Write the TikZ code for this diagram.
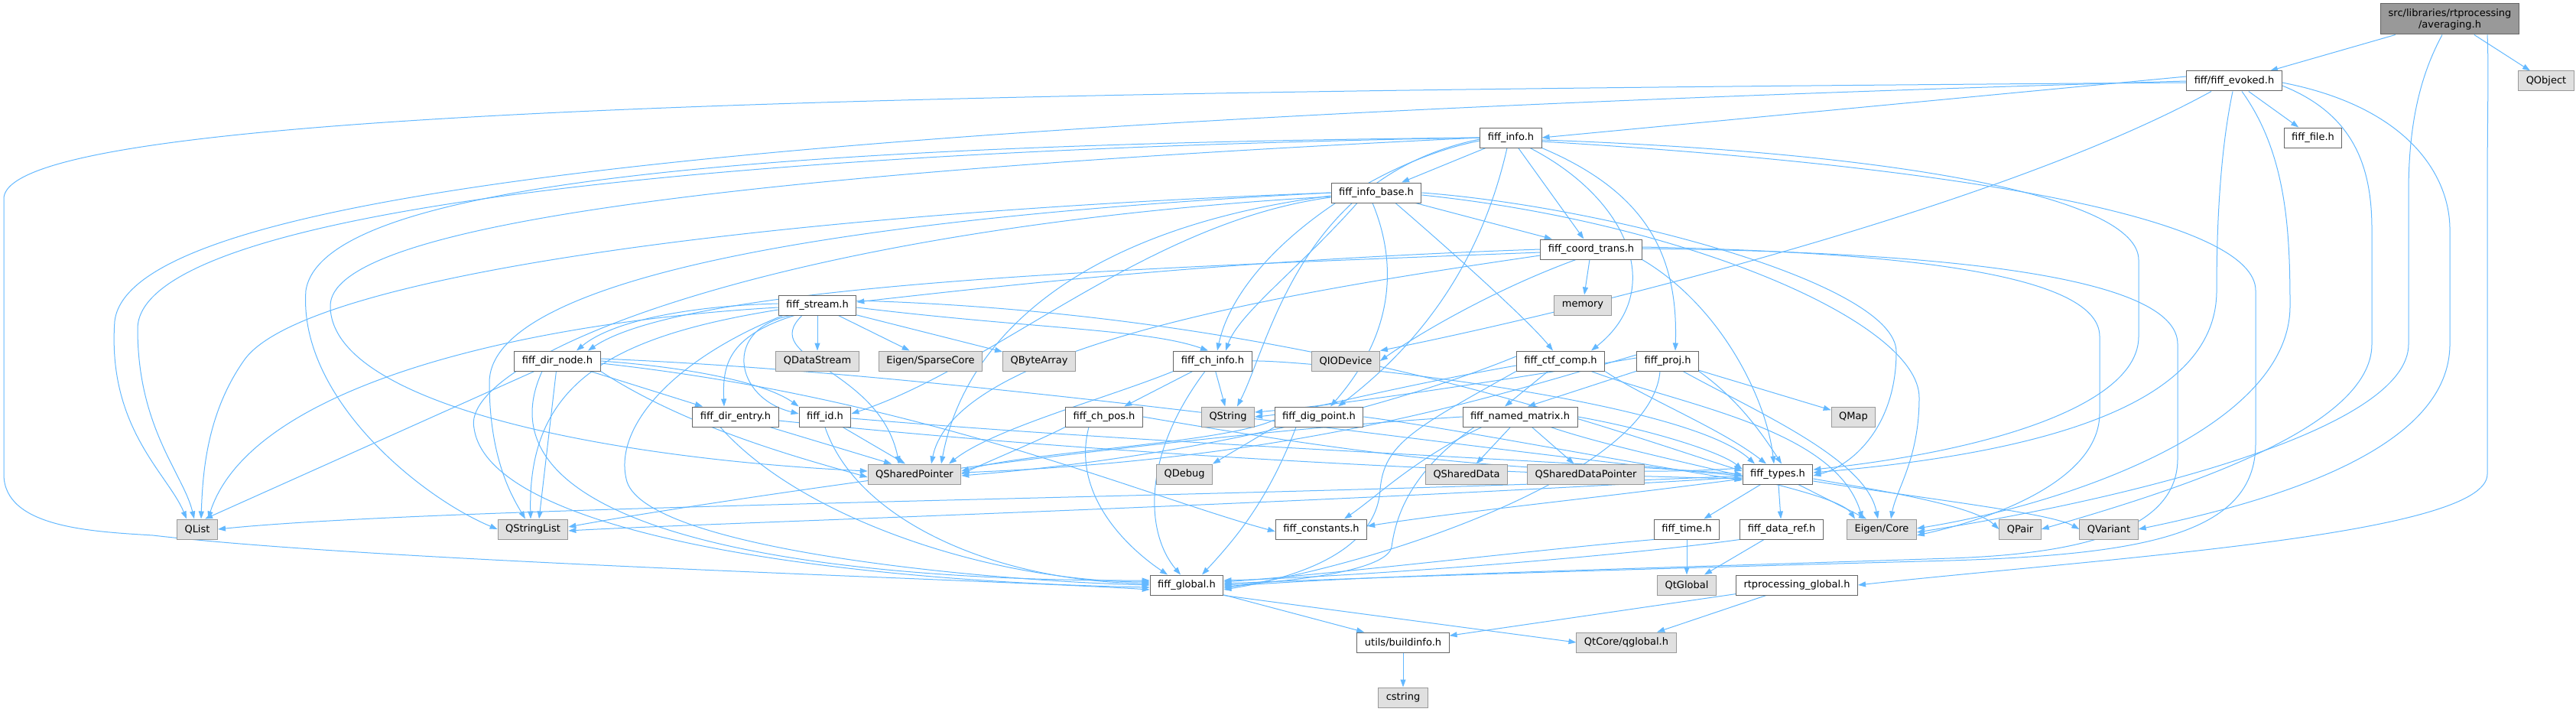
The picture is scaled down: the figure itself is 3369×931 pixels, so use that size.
\documentclass[tikz,border=0pt]{standalone}
\usepackage{fontspec}
\usepackage{tikz}
\usetikzlibrary{arrows.meta,backgrounds}
\newfontfamily\dejavu{DejaVu Sans}
\definecolor{incblue}{HTML}{63B8FF}
\definecolor{boxline}{HTML}{666666}
\definecolor{extline}{HTML}{999999}
\definecolor{extfill}{HTML}{E0E0E0}
\definecolor{mainfill}{HTML}{999999}

\begin{document}
\begin{tikzpicture}[x=1pt,y=-1pt,
    file/.style={draw=boxline, fill=white, line width=1pt, inner xsep=10pt, inner ysep=0pt,
                 minimum height=26pt, font=\dejavu\fontsize{13pt}{15pt}\selectfont},
    extfile/.style={file, draw=extline, fill=extfill},
    mainfile/.style={file, fill=mainfill, minimum height=40pt, align=center},
    inc/.style={draw=incblue, line width=1pt, -{Triangle[length=10pt,width=7pt]}}]
        \useasboundingbox (0,0) rectangle (3369,931);

        % files of the graph
        \node[mainfile] (AV) at (3204,25) {src/libraries/rtprocessing\\/averaging.h};
        \node[file] (EV) at (2922,106) {fiff/fiff\_evoked.h};
        \node[extfile] (QOBJ) at (3330,106) {QObject};
        \node[file] (INFO) at (1976,180) {fiff\_info.h};
        \node[file] (FILE) at (3025,180) {fiff\_file.h};
        \node[file] (IBASE) at (1800,252) {fiff\_info\_base.h};
        \node[file] (COORD) at (2081,326) {fiff\_coord\_trans.h};
        \node[file] (STREAM) at (1069,399) {fiff\_stream.h};
        \node[extfile] (MEM) at (2070,399) {memory};
        \node[file] (DIRNODE) at (729,472) {fiff\_dir\_node.h};
        \node[extfile] (QDS) at (1069,472) {QDataStream};
        \node[extfile] (SPARSE) at (1217,472) {Eigen/SparseCore};
        \node[extfile] (QBA) at (1359,472) {QByteArray};
        \node[file] (CHINFO) at (1586,472) {fiff\_ch\_info.h};
        \node[extfile] (QIO) at (1760,472) {QIODevice};
        \node[file] (CTF) at (2041,472) {fiff\_ctf\_comp.h};
        \node[file] (PROJ) at (2181,472) {fiff\_proj.h};
        \node[file] (DIRENTRY) at (962,545) {fiff\_dir\_entry.h};
        \node[file] (ID) at (1079,545) {fiff\_id.h};
        \node[file] (CHPOS) at (1444,545) {fiff\_ch\_pos.h};
        \node[extfile] (QSTR) at (1606,545) {QString};
        \node[file] (DIGPT) at (1725,545) {fiff\_dig\_point.h};
        \node[file] (NAMED) at (1988,545) {fiff\_named\_matrix.h};
        \node[extfile] (QMAP) at (2424,545) {QMap};
        \node[extfile] (QSP) at (1196,620) {QSharedPointer};
        \node[extfile] (QDEBUG) at (1549,620) {QDebug};
        \node[extfile] (QSD) at (1918,620) {QSharedData};
        \node[extfile] (QSDP) at (2074,620) {QSharedDataPointer};
        \node[file] (TYPES) at (2325,620) {fiff\_types.h};
        \node[extfile] (QLIST) at (258,692) {QList};
        \node[extfile] (QSL) at (697,692) {QStringList};
        \node[file] (CONST) at (1728,692) {fiff\_constants.h};
        \node[file] (TIME) at (2206,692) {fiff\_time.h};
        \node[file] (DATAREF) at (2330,692) {fiff\_data\_ref.h};
        \node[extfile] (EIGEN) at (2461,692) {Eigen/Core};
        \node[extfile] (QPAIR) at (2642,692) {QPair};
        \node[extfile] (QVAR) at (2758,692) {QVariant};
        \node[file] (GLOBAL) at (1552,765) {fiff\_global.h};
        \node[extfile] (QTGLOBAL) at (2206,765) {QtGlobal};
        \node[file] (RTG) at (2350,765) {rtprocessing\_global.h};
        \node[file] (BUILD) at (1835,840) {utils/buildinfo.h};
        \node[extfile] (QGLOBAL) at (2127,840) {QtCore/qglobal.h};
        \node[extfile] (CSTRING) at (1835,912) {cstring};

        \begin{scope}[on background layer]
        % averaging.h
        \draw[inc] (AV) -- (EV);
        \draw[inc] (AV) -- (QOBJ);
        \draw[inc] ([xshift=49pt]AV.south) .. controls (3255,90) and (3253,150) .. (3253,250) -- (3253,620) .. controls (3253,700) and (2750,730) .. (RTG.east);
        \draw[inc] ([xshift=-10pt]AV.south) .. controls (3170,90) and (3150,150) .. (3150,250) -- (3150,450) .. controls (3150,560) and (2800,650) .. ([yshift=-4pt]EIGEN.east);

        % fiff_evoked.h
        \draw[inc] ([yshift=6pt]EV.west) -- (INFO.east);
        \draw[inc] (EV) -- (FILE);
        \draw[inc] ([yshift=-2pt]EV.west) .. controls (1200,120) and (5,140) .. (5,260) -- (5,620) .. controls (5,690) and (120,695) .. (200,700) .. controls (500,735) and (1300,758) .. ([yshift=-6pt]GLOBAL.west);
        \draw[inc] (EV.west) .. controls (1000,160) and (170,250) .. (150,420) .. controls (140,560) and (220,620) .. ([xshift=-14pt]QLIST.north);
        \draw[inc] ([xshift=-30pt]EV.south) .. controls (2600,280) and (2000,420) .. (QIO.north east);
        \draw[inc] ([xshift=-2pt]EV.south) .. controls (2903,200) and (2899,300) .. (2899,380) .. controls (2899,520) and (2700,590) .. ([yshift=2pt]TYPES.east);
        \draw[inc] ([xshift=10pt]EV.south) .. controls (2990,200) and (2995,300) .. (2995,400) .. controls (2995,560) and (2700,660) .. ([yshift=1pt]EIGEN.east);
        \draw[inc] ([yshift=-6pt]EV.east) .. controls (3080,150) and (3102,220) .. (3102,300) -- (3102,450) .. controls (3102,560) and (2850,640) .. (QPAIR.east);
        \draw[inc] ([yshift=-2pt]EV.east) .. controls (3150,140) and (3204,230) .. (3204,300) -- (3204,450) .. controls (3204,580) and (3000,650) .. (QVAR.east);

        % fiff_info.h
        \draw[inc] (INFO) -- (IBASE);
        \draw[inc] (INFO) -- (COORD);
        \draw[inc] ([xshift=25pt]INFO.south) .. controls (2130,260) and (2180,380) .. ([xshift=40pt]CTF.north);
        \draw[inc] (INFO.south east) .. controls (2150,250) and (2195,330) .. ([xshift=10pt]PROJ.north);
        \draw[inc] ([xshift=-5pt]INFO.south) .. controls (1940,330) and (1870,440) .. ([xshift=25pt]DIGPT.north);
        \draw[inc] ([yshift=-4pt]INFO.west) .. controls (1800,210) and (1620,330) .. ([xshift=6pt]CHINFO.north);
        \draw[inc] ([yshift=-3pt]INFO.east) .. controls (2500,200) and (2797,260) .. (2797,340) -- (2797,440) .. controls (2797,530) and (2600,590) .. ([yshift=6pt]TYPES.east);
        \draw[inc] ([yshift=-5pt]INFO.east) .. controls (2600,220) and (2950,290) .. (2950,380) -- (2950,580) .. controls (2950,700) and (2800,725) .. (2550,733) .. controls (2100,745) and (1800,755) .. ([yshift=2pt]GLOBAL.east);
        \draw[inc] (INFO.west) .. controls (900,190) and (420,250) .. (400,380) .. controls (390,520) and (550,650) .. (QSL.west);
        \draw[inc] (INFO.west) .. controls (800,200) and (180,290) .. (180,430) .. controls (180,560) and (240,620) .. ([xshift=-4pt]QLIST.north);
        \draw[inc] (INFO.west) .. controls (900,230) and (432,300) .. (432,400) .. controls (432,530) and (800,600) .. ([yshift=4pt]QSP.west);
        \draw[inc] ([yshift=-2pt]INFO.west) .. controls (1700,230) and (1660,450) .. ([xshift=12pt]QSTR.north);

        % fiff_info_base.h
        \draw[inc] (IBASE) -- (COORD);
        \draw[inc] ([xshift=25pt]IBASE.south) .. controls (1900,330) and (2000,420) .. ([xshift=-10pt]CTF.north);
        \draw[inc] ([xshift=-5pt]IBASE.south) .. controls (1830,350) and (1820,440) .. ([xshift=15pt]DIGPT.north);
        \draw[inc] ([xshift=-25pt]IBASE.south) .. controls (1700,350) and (1620,410) .. ([xshift=17pt]CHINFO.north);
        \draw[inc] ([yshift=-6pt]IBASE.west) .. controls (1500,290) and (1300,480) .. ([yshift=4pt]ID.east);
        \draw[inc] (IBASE.east) .. controls (2100,270) and (2480,370) .. (2480,460) .. controls (2480,560) and (2420,610) .. ([yshift=-2pt]TYPES.east);
        \draw[inc] ([yshift=-3pt]IBASE.east) .. controls (2200,290) and (2510,420) .. (2510,520) .. controls (2510,600) and (2480,640) .. ([xshift=12pt]EIGEN.north);
        \draw[inc] (IBASE.west) .. controls (1000,280) and (400,360) .. (320,470) .. controls (270,540) and (265,620) .. ([xshift=5pt]QLIST.north);
        \draw[inc] (IBASE.west) .. controls (1000,290) and (640,380) .. (640,500) .. controls (640,600) and (670,650) .. ([xshift=-10pt]QSL.north);
        \draw[inc] ([yshift=-4pt]IBASE.west) .. controls (1400,300) and (1260,450) .. ([xshift=35pt]QSP.north);
        \draw[inc] ([yshift=-5pt]IBASE.west) .. controls (1000,300) and (600,470) .. (620,560) .. controls (640,700) and (1100,760) .. ([yshift=-3pt]GLOBAL.west);

        % fiff_coord_trans.h
        \draw[inc] (COORD) -- (MEM);
        \draw[inc] (COORD.west) .. controls (1600,340) and (1300,375) .. ([yshift=4pt]STREAM.east);
        \draw[inc] ([yshift=-4pt]COORD.west) .. controls (1500,350) and (900,370) .. ([xshift=40pt]DIRNODE.north);
        \draw[inc] ([yshift=-8pt]COORD.west) .. controls (1700,380) and (1250,450) .. ([xshift=22pt]QSP.north);
        \draw[inc] ([xshift=-20pt]COORD.south) .. controls (1950,380) and (1850,440) .. (QIO.east);
        \draw[inc] (COORD.south east) .. controls (2250,400) and (2310,520) .. ([xshift=-5pt]TYPES.north);
        \draw[inc] ([yshift=3pt]COORD.east) .. controls (2500,330) and (2746,360) .. (2746,440) -- (2746,540) .. controls (2746,630) and (2600,680) .. ([yshift=-8pt]EIGEN.east);
        \draw[inc] ([yshift=1pt]COORD.east) .. controls (2600,330) and (2848,370) .. (2848,450) -- (2848,600) .. controls (2848,700) and (2700,725) .. (2550,730) .. controls (2100,745) and (1800,752) .. ([yshift=-2pt]GLOBAL.east);

        % fiff_stream.h
        \draw[inc] (STREAM) -- (QDS);
        \draw[inc] (STREAM) -- (SPARSE);
        \draw[inc] (STREAM) -- (QBA);
        \draw[inc] ([yshift=2pt]STREAM.west) .. controls (900,400) and (800,420) .. ([xshift=25pt]DIRNODE.north);
        \draw[inc] ([xshift=-30pt]STREAM.south) .. controls (950,440) and (945,480) .. ([xshift=-15pt]DIRENTRY.north);
        \draw[inc] ([xshift=-35pt]STREAM.south) .. controls (945,430) and (960,520) .. ([yshift=4pt]ID.west);
        \draw[inc] ([xshift=-20pt]STREAM.south) .. controls (990,470) and (1150,480) .. ([xshift=-20pt]QSP.north);
        \draw[inc] ([yshift=-3pt]STREAM.west) .. controls (700,420) and (330,500) .. ([xshift=14pt]QLIST.north);
        \draw[inc] ([yshift=-6pt]STREAM.west) .. controls (800,440) and (690,500) .. ([xshift=-3pt]QSL.north);
        \draw[inc] ([xshift=-45pt]STREAM.south) .. controls (880,470) and (800,560) .. (820,630) .. controls (850,720) and (1300,760) .. ([yshift=0pt]GLOBAL.west);
        \draw[inc] ([yshift=6pt]STREAM.east) .. controls (1700,410) and (2100,560) .. ([yshift=4pt]TYPES.west);
        \draw[inc] ([yshift=-3pt]STREAM.east) .. controls (1350,430) and (1500,430) .. ([xshift=-6pt]CHINFO.north);

        % fiff_dir_node.h
        \draw[inc] (DIRNODE) -- ([xshift=10pt]QLIST.north);
        \draw[inc] (DIRNODE) -- ([xshift=8pt]QSL.north);
        \draw[inc] (DIRNODE) -- (DIRENTRY);
        \draw[inc] (DIRNODE.east) .. controls (900,480) and (1000,500) .. (ID.north west);
        \draw[inc] (DIRNODE.south east) .. controls (900,560) and (1050,600) .. ([yshift=-4pt]QSP.west);
        \draw[inc] ([yshift=-3pt]DIRNODE.east) .. controls (1200,520) and (1500,650) .. ([yshift=-3pt]CONST.west);
        \draw[inc] ([yshift=3pt]DIRNODE.east) .. controls (1300,490) and (2000,600) .. ([yshift=-2pt]TYPES.west);
        \draw[inc] ([xshift=-20pt]DIRNODE.south) .. controls (620,680) and (1000,760) .. ([yshift=6pt]GLOBAL.west);

        % fiff_dir_entry.h, fiff_id.h
        \draw[inc] (DIRENTRY) -- ([xshift=-30pt]QSP.north);
        \draw[inc] ([xshift=-20pt]DIRENTRY.south) .. controls (1050,680) and (1300,760) .. ([yshift=4pt]GLOBAL.west);
        \draw[inc] ([yshift=-5pt]DIRENTRY.east) .. controls (1500,600) and (2000,620) .. ([yshift=-6pt]TYPES.west);
        \draw[inc] (ID) -- ([xshift=-12pt]QSP.north);
        \draw[inc] (ID.south) .. controls (1120,680) and (1300,760) .. ([yshift=2pt]GLOBAL.west);
        \draw[inc] ([yshift=-2pt]ID.east) .. controls (1500,580) and (2000,600) .. ([yshift=0pt]TYPES.west);

        % fiff_ch_info.h, fiff_ch_pos.h
        \draw[inc] (CHINFO) -- (CHPOS);
        \draw[inc] (CHINFO) -- (QSTR);
        \draw[inc] (CHINFO.south west) .. controls (1450,520) and (1300,560) .. ([xshift=45pt]QSP.north);
        \draw[inc] ([xshift=-10pt]CHINFO.south) .. controls (1490,600) and (1500,700) .. ([xshift=-8pt]GLOBAL.north);
        \draw[inc] (CHINFO.east) .. controls (1700,470) and (2200,520) .. ([xshift=-30pt]TYPES.north);
        \draw[inc] (CHPOS.south west) .. controls (1350,580) and (1300,600) .. (QSP.east);
        \draw[inc] ([xshift=-20pt]CHPOS.south) .. controls (1400,650) and (1480,720) .. ([xshift=-25pt]GLOBAL.north);
        \draw[inc] (CHPOS.east) .. controls (1700,580) and (2000,630) .. ([yshift=8pt]TYPES.west);

        % fiff_dig_point.h
        \draw[inc] (DIGPT.south west) -- (QDEBUG.north east);
        \draw[inc] ([yshift=-4pt]DIGPT.west) .. controls (1600,580) and (1350,590) .. ([yshift=4pt]QSP.east);
        \draw[inc] ([xshift=-30pt]DIGPT.south) .. controls (1660,650) and (1620,700) .. ([xshift=20pt]GLOBAL.north);
        \draw[inc] (DIGPT.east) .. controls (1900,560) and (2100,600) .. ([yshift=-8pt]TYPES.west);

        % fiff_ctf_comp.h, fiff_proj.h
        \draw[inc] (CTF) -- ([xshift=-20pt]NAMED.north);
        \draw[inc] (CTF.south east) .. controls (2150,520) and (2250,560) .. ([xshift=-15pt]TYPES.north);
        \draw[inc] ([xshift=40pt]CTF.south) .. controls (2200,530) and (2400,560) .. ([xshift=-25pt]EIGEN.north);
        \draw[inc] ([yshift=6pt]CTF.west) .. controls (1900,500) and (1650,590) .. ([yshift=-2pt]QSP.east);
        \draw[inc] (CTF.south west) .. controls (1850,560) and (1810,580) .. (1805,640) .. controls (1800,720) and (1700,755) .. ([yshift=-6pt]GLOBAL.east);
        \draw[inc] ([yshift=-6pt]CTF.west) .. controls (1800,510) and (1700,540) .. (QSTR.east);
        \draw[inc] (PROJ) -- ([xshift=10pt]NAMED.north);
        \draw[inc] (PROJ) -- (QMAP);
        \draw[inc] (PROJ.south east) .. controls (2270,520) and (2300,560) .. ([xshift=5pt]TYPES.north);
        \draw[inc] ([xshift=20pt]PROJ.south) .. controls (2300,540) and (2440,600) .. ([xshift=-5pt]EIGEN.north);
        \draw[inc] ([yshift=8pt]PROJ.west) .. controls (1950,520) and (1700,600) .. ([yshift=2pt]QSP.east);
        \draw[inc] ([xshift=-10pt]PROJ.south) .. controls (2160,620) and (1800,740) .. ([yshift=-4pt]GLOBAL.east);
        \draw[inc] ([yshift=4pt]PROJ.west) .. controls (1950,500) and (1750,530) .. ([yshift=6pt]QSTR.east);

        % fiff_named_matrix.h
        \draw[inc] (NAMED) -- (QSD);
        \draw[inc] (NAMED) -- (QSDP);
        \draw[inc] (NAMED.east) .. controls (2150,560) and (2250,590) .. ([yshift=6pt]TYPES.west);
        \draw[inc] ([xshift=40pt]NAMED.south) .. controls (2150,600) and (2400,640) .. ([xshift=-35pt]EIGEN.north);
        \draw[inc] (NAMED.west) .. controls (1500,570) and (900,660) .. ([yshift=3pt]QSL.east);
        \draw[inc] ([xshift=-50pt]NAMED.south) .. controls (1850,600) and (1800,650) .. ([xshift=30pt]CONST.north);
        \draw[inc] ([xshift=-60pt]NAMED.south) .. controls (1840,620) and (1825,680) .. (1820,715) .. controls (1815,745) and (1700,760) .. (GLOBAL.east);

        % fiff_types.h
        \draw[inc] (TYPES) -- (TIME);
        \draw[inc] (TYPES) -- (DATAREF);
        \draw[inc] (TYPES) -- ([xshift=-20pt]EIGEN.north);
        \draw[inc] ([yshift=-6pt]TYPES.west) .. controls (2100,650) and (1900,670) .. ([yshift=4pt]CONST.east);
        \draw[inc] ([yshift=-2pt]TYPES.west) .. controls (1700,650) and (600,660) .. (QLIST.east);
        \draw[inc] ([yshift=-4pt]TYPES.west) .. controls (1700,660) and (900,685) .. ([yshift=-2pt]QSL.east);
        \draw[inc] ([yshift=-6pt]TYPES.east) .. controls (2450,640) and (2580,660) .. (QPAIR.west);
        \draw[inc] ([yshift=-9pt]TYPES.east) .. controls (2500,650) and (2680,670) .. (QVAR.west);

        % bottom
        \draw[inc] (TIME) -- (QTGLOBAL);
        \draw[inc] (DATAREF) -- (QTGLOBAL);
        \draw[inc] (TIME.south west) .. controls (2000,720) and (1750,750) .. ([yshift=4pt]GLOBAL.east);
        \draw[inc] (DATAREF.south west) .. controls (2100,730) and (1750,755) .. ([yshift=6pt]GLOBAL.east);
        \draw[inc] (GLOBAL) -- (BUILD);
        \draw[inc] (GLOBAL.south east) -- (QGLOBAL.west);
        \draw[inc] (RTG) -- (BUILD);
        \draw[inc] (RTG) -- (QGLOBAL);
        \draw[inc] (BUILD) -- (CSTRING);
        \end{scope}
\end{tikzpicture}
\end{document}
